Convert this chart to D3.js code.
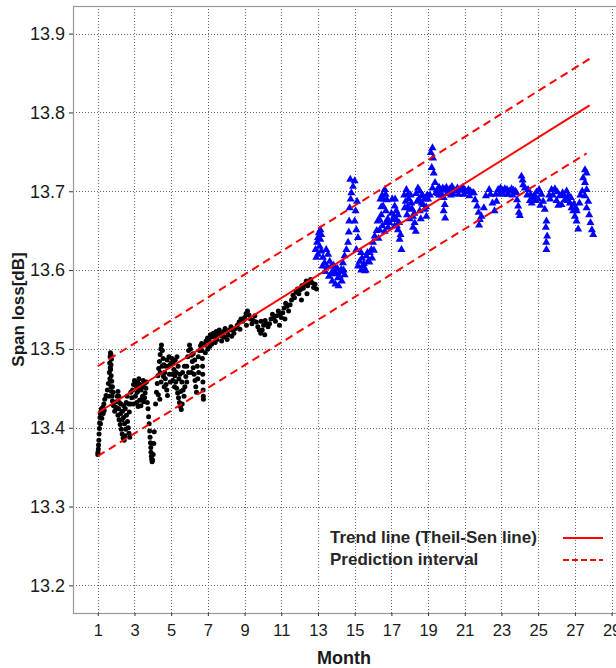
<!DOCTYPE html>
<html><head><meta charset="utf-8">
<script src="https://cdn.jsdelivr.net/npm/d3@7"></script>
<style>html,body{margin:0;padding:0;background:#fff;}svg{display:block;}</style>
</head><body>
<script>
const xTicks = [1,3,5,7,9,11,13,15,17,19,21,23,25,27,29];
const yTicks = [13.2,13.3,13.4,13.5,13.6,13.7,13.8,13.9];
const xTitle = "Month";
const yTitle = "Span loss[dB]";
const legendLabels = ["Trend line (Theil-Sen line)", "Prediction interval"];

const trendMonths = [1, 27.8];
const trendValues = [13.419, 13.809];
const upperMonths = [1, 27.8];
const upperValues = [13.478, 13.868];
const lowerMonths = [1, 27.64];
const lowerValues = [13.364, 13.748];

const blackPoints = [
[1.00,13.366],[1.01,13.369],[1.03,13.373],[1.04,13.378],[1.06,13.384],[1.07,13.392],[1.09,13.399],[1.10,13.406],
[1.12,13.413],[1.14,13.418],[1.17,13.421],[1.20,13.424],[1.24,13.420],[1.28,13.426],[1.33,13.430],[1.38,13.436],
[1.15,13.405],[1.22,13.412],[1.30,13.418],[1.35,13.422],
[1.45,13.441],[1.52,13.448],[1.58,13.456],
[1.63,13.470],[1.65,13.482],[1.67,13.490],[1.69,13.495],[1.72,13.493],[1.74,13.487],[1.72,13.480],[1.70,13.474],
[1.73,13.466],[1.76,13.459],[1.72,13.452],[1.75,13.446],[1.78,13.440],[1.80,13.434],
[1.60,13.440],[1.66,13.462],[1.68,13.476],[1.80,13.452],[1.84,13.445],
[1.86,13.428],[1.92,13.421],[1.97,13.426],[2.02,13.433],[2.06,13.440],[2.10,13.446],[2.15,13.440],[2.18,13.432],
[2.14,13.424],[2.10,13.416],[2.16,13.410],[2.22,13.404],[2.28,13.398],[2.33,13.392],[2.38,13.387],[2.44,13.384],
[2.48,13.390],[2.52,13.398],[2.46,13.405],[2.40,13.413],[2.35,13.421],[2.42,13.428],[2.50,13.424],[2.56,13.416],
[2.62,13.408],[2.66,13.400],[2.70,13.393],[2.74,13.388],[2.72,13.420],[2.78,13.430],
[2.05,13.425],[2.25,13.418],[2.32,13.410],[2.55,13.432],[2.60,13.440],[2.68,13.430],[2.80,13.445],[2.26,13.430],
[2.85,13.438],[2.90,13.448],[2.95,13.455],[3.00,13.460],[3.06,13.457],[3.12,13.452],[3.18,13.458],[3.24,13.462],
[3.30,13.455],[3.36,13.448],[3.42,13.452],[3.48,13.460],[3.54,13.456],[3.05,13.440],[3.12,13.432],[3.20,13.427],
[3.28,13.435],[3.35,13.428],[3.44,13.440],[3.50,13.433],[3.58,13.444],[3.62,13.450],
[3.15,13.445],[3.25,13.448],[3.40,13.436],[3.55,13.438],[3.65,13.458],[2.95,13.430],
[3.70,13.432],[3.74,13.424],[3.77,13.414],[3.80,13.405],[3.83,13.396],[3.85,13.388],[3.87,13.381],[3.89,13.375],
[3.90,13.369],[3.92,13.364],[3.94,13.360],[3.96,13.357],[3.99,13.359],[4.02,13.366],[4.05,13.380],[4.08,13.395],
[4.15,13.430],[4.20,13.445],[4.24,13.456],[4.28,13.466],[4.32,13.475],[4.36,13.484],[4.40,13.493],[4.44,13.500],
[4.47,13.505],[4.52,13.498],[4.56,13.488],[4.60,13.480],[4.64,13.470],[4.68,13.462],[4.72,13.455],[4.76,13.448],
[4.80,13.441],[4.70,13.478],[4.78,13.486],[4.85,13.478],[4.90,13.468],[4.95,13.458],[4.30,13.442],[4.38,13.436],
[4.40,13.470],[4.50,13.478],[4.58,13.465],[4.62,13.452],[4.45,13.458],[4.88,13.490],[4.95,13.480],
[5.00,13.482],[5.05,13.488],[5.10,13.482],[5.15,13.474],[5.20,13.466],[5.25,13.458],[5.30,13.450],[5.35,13.444],
[5.40,13.438],[5.45,13.432],[5.50,13.427],[5.55,13.423],[5.60,13.430],[5.10,13.460],[5.18,13.452],[5.28,13.470],
[5.38,13.478],[5.48,13.468],[5.58,13.458],[5.65,13.448],[5.70,13.440],[5.75,13.452],[5.80,13.465],
[5.05,13.468],[5.22,13.486],[5.32,13.490],[5.42,13.462],[5.52,13.446],[5.62,13.470],[5.72,13.478],[5.85,13.458],[5.95,13.470],
[5.85,13.478],[5.90,13.490],[5.95,13.498],[6.00,13.505],[6.05,13.500],[6.10,13.492],[6.15,13.484],[6.20,13.476],
[6.25,13.468],[6.30,13.460],[6.34,13.452],[6.38,13.445],[6.42,13.478],[6.48,13.490],[6.54,13.498],[6.60,13.504],
[6.10,13.470],[6.20,13.494],[6.28,13.486],[6.45,13.462],[6.50,13.470],
[6.66,13.507],[6.68,13.498],[6.70,13.488],[6.71,13.478],[6.72,13.468],[6.73,13.458],[6.74,13.448],[6.75,13.440],[6.76,13.436],
[6.82,13.505],[6.90,13.510],[6.98,13.514],[7.06,13.512],[7.14,13.518],[7.22,13.515],[7.30,13.520],[7.38,13.516],
[7.46,13.522],[7.54,13.518],[7.62,13.524],[7.70,13.520],[7.78,13.516],[7.86,13.522],[7.94,13.526],[8.02,13.522],
[8.10,13.518],[8.18,13.524],[8.26,13.528],[8.34,13.524],[8.42,13.520],[8.50,13.526],[7.10,13.503],[7.40,13.508],
[7.75,13.510],[8.05,13.512],
[6.86,13.495],[7.00,13.500],[7.20,13.506],[7.50,13.512],[7.90,13.515],[8.30,13.516],
[8.60,13.530],[8.70,13.534],[8.80,13.538],[8.90,13.535],[9.00,13.540],[9.08,13.545],[9.16,13.548],[9.24,13.543],
[9.32,13.538],[9.40,13.532],[9.48,13.536],[9.56,13.542],[8.75,13.525],[9.10,13.530],
[9.64,13.534],[9.72,13.528],[9.80,13.524],[9.88,13.520],[9.96,13.524],[10.04,13.530],[10.12,13.536],[10.20,13.532],
[10.28,13.528],[10.36,13.532],[10.44,13.538],[10.52,13.544],[10.60,13.540],[9.90,13.535],[10.10,13.518],
[10.68,13.535],[10.76,13.542],[10.84,13.548],[10.92,13.544],[11.00,13.540],[11.08,13.546],[11.16,13.552],[11.24,13.558],
[11.32,13.554],[11.40,13.548],[11.48,13.556],[10.90,13.530],[11.20,13.538],
[11.56,13.562],[11.64,13.568],[11.72,13.565],[11.80,13.572],[11.88,13.576],[11.96,13.570],[12.04,13.575],[12.12,13.580],
[12.20,13.577],[12.28,13.582],[12.36,13.586],[12.44,13.580],[12.52,13.584],[12.60,13.588],[12.68,13.584],[12.76,13.578],
[12.84,13.582],[12.92,13.576],[12.10,13.562],[12.40,13.570]
];

const bluePoints = [
[12.87,13.626],[12.95,13.635],[13.00,13.641],[13.05,13.647],[13.13,13.651],[13.18,13.645],[13.13,13.639],[13.09,13.630],
[13.00,13.620],[12.91,13.616],
[13.18,13.624],[13.27,13.616],[13.36,13.609],[13.45,13.626],[13.55,13.620],[13.64,13.611],[13.73,13.605],[13.82,13.599],
[14.00,13.595],[14.18,13.592],[14.27,13.601],[14.36,13.609],[13.91,13.597],[14.09,13.590],
[13.60,13.592],[13.78,13.586],[13.95,13.582],[14.12,13.580],[14.30,13.586],[14.45,13.594],
[13.40,13.598],[13.50,13.604],[13.70,13.595],[13.85,13.606],[14.05,13.602],[14.22,13.598],[14.40,13.600],[13.25,13.605],
[14.45,13.618],[14.55,13.626],[14.64,13.635],
[14.76,13.715],[15.00,13.713],[14.91,13.706],[14.82,13.698],[14.73,13.679],[15.13,13.687],[15.05,13.675],[15.00,13.662],
[15.09,13.651],[15.18,13.641],[15.09,13.626],[15.27,13.611],[15.18,13.605],[14.70,13.662],[14.68,13.648],[14.78,13.690],
[15.45,13.605],[15.64,13.618],[15.82,13.622],[15.91,13.626],[16.00,13.635],[16.09,13.643],[15.73,13.611],[15.55,13.599],[15.36,13.600],
[15.40,13.615],[15.50,13.608],[15.60,13.600],[15.70,13.622],[15.80,13.610],[15.95,13.615],[16.05,13.625],[15.35,13.622],
[16.36,13.664],[16.45,13.670],[16.55,13.681],[16.64,13.702],[16.69,13.696],[16.76,13.689],[16.51,13.656],[16.64,13.649],
[16.82,13.654],[16.36,13.651],[16.20,13.650],[16.58,13.690],[16.45,13.680],
[16.25,13.662],[16.30,13.640],[16.40,13.690],[16.50,13.695],[16.70,13.675],[16.80,13.665],[16.90,13.660],[16.70,13.660],
[17.18,13.681],[17.27,13.675],[17.36,13.670],[17.09,13.664],[17.18,13.656],[17.36,13.651],[17.45,13.639],[17.55,13.626],
[17.27,13.664],[17.00,13.672],[17.50,13.645],
[17.05,13.690],[17.15,13.668],[17.30,13.656],[17.42,13.660],[17.20,13.690],
[17.82,13.702],[17.91,13.696],[17.78,13.687],[17.73,13.679],[17.85,13.670],[18.00,13.677],[18.18,13.668],[18.27,13.660],
[18.18,13.654],[18.33,13.649],[18.09,13.685],[17.95,13.690],
[17.70,13.695],[17.88,13.680],[18.05,13.695],[18.12,13.678],[18.25,13.672],[18.00,13.665],
[18.45,13.704],[18.55,13.700],[18.64,13.694],[18.40,13.687],[18.73,13.683],[18.82,13.677],[18.91,13.668],[18.55,13.675],[18.65,13.685],
[18.35,13.697],[18.50,13.690],[18.70,13.695],[18.80,13.690],[18.90,13.680],[18.95,13.695],[18.60,13.665],
[19.24,13.755],[19.15,13.749],[19.27,13.742],[19.20,13.730],[19.31,13.723],[19.38,13.711],[19.24,13.704],[19.42,13.698],
[19.10,13.695],[19.00,13.690],
[19.50,13.702],[19.60,13.705],[19.70,13.701],[19.80,13.704],[19.90,13.702],[20.00,13.705],[20.10,13.701],[20.20,13.703],
[20.30,13.706],[20.40,13.702],[20.50,13.700],[20.60,13.704],[20.70,13.701],[20.80,13.703],[20.90,13.705],[21.00,13.701],
[21.10,13.699],[21.20,13.702],[21.30,13.700],[21.40,13.698],
[19.55,13.697],[19.75,13.695],[20.05,13.697],[20.35,13.697],[20.65,13.696],[20.95,13.696],[21.25,13.694],
[19.85,13.692],[19.91,13.683],[19.85,13.675],[19.93,13.666],[19.60,13.695],[20.25,13.695],
[21.49,13.698],[21.56,13.689],[21.67,13.681],[21.75,13.673],[21.82,13.664],[21.78,13.657],[21.91,13.668],[22.04,13.679],[22.15,13.694],
[22.33,13.702],[22.40,13.696],[22.51,13.685],[22.62,13.675],[22.73,13.687],[22.69,13.696],
[22.82,13.702],[22.95,13.704],[23.05,13.701],[23.18,13.703],[23.30,13.702],[23.42,13.700],[23.55,13.703],[23.65,13.701],[23.75,13.700],
[22.90,13.697],[23.10,13.696],[23.35,13.696],[23.60,13.695],
[23.82,13.698],[23.85,13.689],[23.91,13.681],[23.95,13.673],[24.00,13.669],
[24.09,13.719],[24.15,13.714],[24.18,13.708],[24.27,13.704],
[24.45,13.702],[24.58,13.696],[24.73,13.692],[24.91,13.699],[25.05,13.702],[25.18,13.696],[25.27,13.687],[24.65,13.685],[24.85,13.688],
[24.40,13.695],[24.55,13.688],[24.80,13.695],[25.00,13.690],[25.12,13.682],
[25.36,13.677],[25.45,13.662],[25.42,13.654],[25.49,13.643],[25.44,13.635],[25.45,13.626],
[25.73,13.702],[25.91,13.703],[26.04,13.699],[26.18,13.694],[26.33,13.698],[26.45,13.689],[26.27,13.683],[25.60,13.695],
[25.65,13.690],[25.80,13.695],[26.00,13.688],[26.10,13.682],[26.40,13.695],
[26.64,13.694],[26.73,13.685],[26.82,13.679],[26.91,13.675],[27.00,13.668],[27.09,13.662],[27.18,13.652],[27.05,13.679],[26.55,13.700],
[26.60,13.688],[26.78,13.692],[26.95,13.684],[27.10,13.675],[27.25,13.685],[27.30,13.695],
[27.55,13.727],[27.64,13.723],[27.45,13.717],[27.55,13.711],[27.64,13.702],[27.55,13.694],[27.73,13.687],[27.64,13.679],
[27.78,13.670],[27.85,13.660],[27.93,13.651],[28.00,13.645],[27.40,13.700]
];

const W = 616, H = 668;
const frame = {left: 73, top: 6, right: 618, bottom: 613};
const font = "'Liberation Sans', Arial, Helvetica, sans-serif";

const svg = d3.select("body").append("svg").attr("width", W).attr("height", H)
  .style("font-family", font);
svg.append("rect").attr("width", W).attr("height", H).attr("fill", "#fff");

const x = d3.scaleLinear().domain([-0.35, 29.35]).range([frame.left, frame.right]);
const y = d3.scaleLinear().domain([13.165, 13.935]).range([frame.bottom, frame.top]);

// grid
const grid = svg.append("g").attr("stroke", "#666").attr("stroke-width", 1).attr("stroke-dasharray", "1,2");
grid.selectAll("line.v").data(xTicks).join("line")
  .attr("x1", d => Math.round(x(d)) + 0.5).attr("x2", d => Math.round(x(d)) + 0.5)
  .attr("y1", frame.top).attr("y2", frame.bottom);
grid.selectAll("line.h").data(yTicks).join("line")
  .attr("y1", d => Math.round(y(d)) + 0.5).attr("y2", d => Math.round(y(d)) + 0.5)
  .attr("x1", frame.left).attr("x2", frame.right);

// frame
svg.append("rect").attr("x", frame.left + 0.5).attr("y", frame.top + 0.5)
  .attr("width", frame.right - frame.left).attr("height", frame.bottom - frame.top)
  .attr("fill", "none").attr("stroke", "#999").attr("stroke-width", 1.2);

// axes
const yAxis = d3.axisLeft(y).tickValues(yTicks).tickFormat(d3.format(".1f")).tickSize(4).tickPadding(4);
const gy = svg.append("g").attr("transform", `translate(${frame.left},0)`).call(yAxis);
gy.select(".domain").remove();
gy.selectAll(".tick line").attr("stroke", "#333");
gy.selectAll(".tick text").attr("font-size", 18).attr("fill", "#1a1a1a").attr("font-family", font);

const xAxis = d3.axisBottom(x).tickValues(xTicks).tickFormat(d3.format("d")).tickSize(3).tickPadding(8);
const gx = svg.append("g").attr("transform", `translate(0,${frame.bottom})`).call(xAxis);
gx.select(".domain").remove();
gx.selectAll(".tick line").attr("stroke", "#333");
gx.selectAll(".tick text").attr("font-size", 16.5).attr("fill", "#1a1a1a").attr("font-family", font);

// titles
svg.append("text").attr("x", 344).attr("y", 664).attr("text-anchor", "middle")
  .attr("font-size", 18).attr("font-weight", "bold").attr("fill", "#1a1a1a").text(xTitle);
svg.append("text").attr("transform", `translate(24,${(frame.top + frame.bottom) / 2}) rotate(-90)`)
  .attr("text-anchor", "middle").attr("font-size", 17).attr("font-weight", "bold").attr("fill", "#1a1a1a").text(yTitle);

// points
const plot = svg.append("g");
plot.selectAll("circle").data(blackPoints).join("circle")
  .attr("cx", d => x(d[0])).attr("cy", d => y(d[1])).attr("r", 2.5).attr("fill", "#000");
const tri = d3.symbol().type(d3.symbolTriangle).size(28);
plot.selectAll("path.tri").data(bluePoints).join("path").attr("class", "tri")
  .attr("d", tri).attr("transform", d => `translate(${x(d[0])},${y(d[1])})`).attr("fill", "#0000ff");

// lines
const lineGen = d3.line().x(d => x(d[0])).y(d => y(d[1]));
const zip = (a, b) => a.map((m, i) => [m, b[i]]);
svg.append("path").datum(zip(trendMonths, trendValues)).attr("d", lineGen)
  .attr("fill", "none").attr("stroke", "#ff0000").attr("stroke-width", 2);
[zip(upperMonths, upperValues), zip(lowerMonths, lowerValues)].forEach(pts => {
  svg.append("path").datum(pts).attr("d", lineGen)
    .attr("fill", "none").attr("stroke", "#ff0000").attr("stroke-width", 2).attr("stroke-dasharray", "8,5");
});

// legend
const lg = svg.append("g");
lg.selectAll("text").data(legendLabels).join("text")
  .attr("x", 330).attr("y", (d, i) => 543 + i * 22)
  .attr("font-size", 17).attr("font-weight", "bold").attr("fill", "#262626").text(d => d);
lg.append("line").attr("x1", 563).attr("x2", 603).attr("y1", 538).attr("y2", 538)
  .attr("stroke", "#ff0000").attr("stroke-width", 2);
lg.append("line").attr("x1", 563).attr("x2", 603).attr("y1", 560).attr("y2", 560)
  .attr("stroke", "#ff0000").attr("stroke-width", 2).attr("stroke-dasharray", "6,3");
</script>
</body></html>
